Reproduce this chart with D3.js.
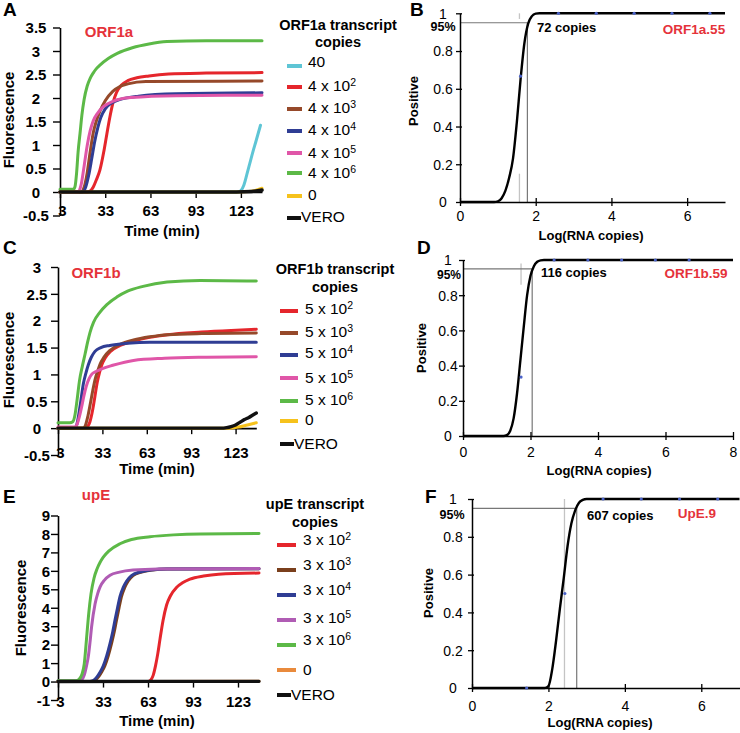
<!DOCTYPE html>
<html><head><meta charset="utf-8">
<script src="https://cdn.jsdelivr.net/npm/d3@7"></script>
<style>body{margin:0;background:#fff} svg text{font-family:"Liberation Sans",Arial,sans-serif}</style>
</head><body>
<svg id="c" width="740" height="733"></svg>
<script>
// ---------------- DATA ----------------
const timeTicks = [3, 33, 63, 93, 123];
const orf1aTicks = [-0.5, 0, 0.5, 1, 1.5, 2, 2.5, 3, 3.5];
const orf1bTicks = [-0.5, 0, 0.5, 1, 1.5, 2, 2.5, 3];
const upeTicks = [-1, 0, 1, 2, 3, 4, 5, 6, 7, 8, 9];
const probTicks = [0, 0.2, 0.4, 0.6, 0.8, 1];
const logTicksB = [0, 2, 4, 6];
const logTicksD = [0, 2, 4, 6, 8];
const logTicksF = [0, 2, 4, 6];

const orf1aLegend = ["40", "4 x 10^2", "4 x 10^3", "4 x 10^4", "4 x 10^5", "4 x 10^6", "0", "VERO"];
const orf1bLegend = ["5 x 10^2", "5 x 10^3", "5 x 10^4", "5 x 10^5", "5 x 10^6", "0", "VERO"];
const upeLegend = ["3 x 10^2", "3 x 10^3", "3 x 10^4", "3 x 10^5", "3 x 10^6", "0", "VERO"];

// ORF1a amplification curves [time, fluorescence]
const orf1a_40 = [[3,0],[121,0],[123,0.03],[125,0.15],[127,0.38],[129,0.62],[131,0.86],[133,1.08],[136,1.42]];
const orf1a_4e2 = [[3,0],[21,0],[23,0.02],[25,0.1],[27,0.25],[29.5,0.47],[32,0.85],[34,1.22],[36,1.58],[38,1.88],[40.5,2.12],[44,2.28],[48,2.37],[54,2.43],[62,2.47],[75,2.51],[100,2.53],[137,2.54]];
const orf1a_4e3 = [[3,0],[17,0],[19,0.1],[21,0.4],[23,0.85],[25,1.25],[27,1.5],[29.5,1.72],[33,1.94],[38,2.14],[43,2.25],[48,2.3],[60,2.35],[137,2.36]];
const orf1a_4e4 = [[3,0],[18,0],[20,0.1],[22,0.35],[24,0.7],[26,1.07],[28,1.36],[30,1.58],[33,1.77],[37,1.89],[43,1.97],[55,2.04],[80,2.09],[137,2.11]];
const orf1a_4e5 = [[3,0],[15,0],[17,0.15],[19,0.55],[21,0.98],[23,1.3],[25,1.51],[28,1.68],[32,1.82],[38,1.93],[50,2.01],[80,2.05],[137,2.06]];
const orf1a_4e6 = [[3,0.06],[12,0.06],[13,0.12],[14,0.4],[15,0.85],[16.3,1.25],[17.5,1.63],[19,1.97],[21,2.25],[23,2.42],[25,2.53],[27,2.62],[29.5,2.7],[35,2.84],[41,2.95],[51,3.07],[62,3.15],[74,3.2],[100,3.22],[137,3.22]];
const orf1a_0 = [[3,0],[120,0],[128,0.01],[132,0.03],[137,0.08]];
const orf1a_vero = [[3,0],[120,0],[130,0.01],[137,0.04]];

// ORF1b amplification curves
const orf1b_5e2 = [[3,0],[21.5,0],[23,0.03],[24.6,0.12],[26.5,0.35],[28,0.6],[29.5,0.85],[31,1.03],[32.5,1.17],[35,1.31],[38.5,1.43],[45,1.54],[54,1.62],[65,1.69],[77,1.74],[100,1.79],[120,1.82],[137,1.84]];
const orf1b_5e3 = [[3,0],[20,0],[21.5,0.05],[23,0.2],[24.6,0.42],[26.5,0.7],[28,0.9],[30,1.08],[31.4,1.19],[34,1.32],[38.2,1.45],[45,1.56],[54,1.64],[65,1.7],[77,1.74],[100,1.76],[137,1.77]];
const orf1b_5e4 = [[3,0],[14,0],[15.5,0.05],[17,0.25],[18.5,0.52],[20.1,0.82],[22,1.04],[23.5,1.18],[25.5,1.32],[28,1.43],[32,1.5],[38,1.54],[50,1.58],[65,1.6],[100,1.6],[137,1.6]];
const orf1b_5e5 = [[3,0.02],[14.5,0.02],[16,0.08],[17.5,0.22],[19,0.4],[20.5,0.6],[22,0.77],[24,0.92],[26,1.01],[29,1.06],[33,1.11],[40,1.17],[54,1.26],[75,1.3],[100,1.32],[137,1.33]];
const orf1b_5e6 = [[3,0.1],[11,0.1],[13,0.12],[14.5,0.25],[16,0.55],[17.5,0.88],[19.5,1.16],[21.3,1.38],[23,1.6],[24.6,1.78],[27,1.97],[31.4,2.16],[36,2.3],[42.7,2.44],[50,2.55],[60.5,2.64],[76.7,2.72],[99,2.75],[137,2.74]];
const orf1b_0 = [[3,0],[119,0],[125,0.02],[131,0.06],[137,0.1]];
const orf1b_vero = [[3,0],[113,0],[117,0.01],[120,0.03],[123,0.06],[126,0.11],[129,0.16],[132,0.2],[135,0.25],[137,0.28]];

// upE amplification curves
const upe_3e2 = [[3,0],[63,0],[65,0.1],[66.5,0.35],[68,0.85],[69.5,1.5],[71,2.3],[73,3.3],[75.4,4.15],[78,4.65],[82,5.1],[86,5.35],[91,5.55],[100,5.72],[110,5.82],[137,5.88]];
const upe_3e3 = [[3,0],[25,0],[27.5,0.05],[30,0.25],[32,0.5],[34.2,0.85],[36.5,1.4],[38.7,2.07],[40.5,2.7],[42,3.33],[43.7,4.0],[45.3,4.6],[47.5,5.1],[49.8,5.45],[53,5.74],[58.7,5.94],[66,6.05],[76,6.1],[137,6.12]];
const upe_3e4 = [[3,0],[24,0],[26.5,0.05],[29,0.25],[31,0.5],[33.2,0.85],[35.5,1.4],[37.7,2.07],[39.5,2.7],[41,3.33],[42.7,4.0],[44.3,4.6],[46.5,5.1],[48.8,5.45],[52,5.74],[57.7,5.94],[65,6.05],[75,6.1],[137,6.12]];
const upe_3e5 = [[3,0.05],[17,0.05],[19,0.12],[20.5,0.35],[22,0.85],[23.2,1.35],[24.3,2.1],[25.4,2.97],[27.7,4.2],[29.5,4.78],[31,5.12],[34,5.5],[37.7,5.76],[44,5.93],[53,6.04],[70,6.1],[137,6.13]];
const upe_3e6 = [[3,0.05],[15,0.05],[17,0.12],[19,0.4],[20.5,0.95],[22,2.3],[23.5,3.7],[25,4.75],[27,5.6],[29,6.1],[31,6.45],[33.2,6.74],[37,7.08],[44.3,7.47],[52,7.7],[64.3,7.85],[80,7.95],[98,8.0],[137,8.02]];
const upe_0 = [[3,0],[60,0],[137,0.02]];
const upe_vero = [[3,0],[70,0.01],[137,0.01]];

// Probit (LoD) curves [log copies, fraction positive]
const curveB = [[0,0],[0.9,0],[1.0,0.003],[1.1,0.02],[1.2,0.06],[1.3,0.13],[1.4,0.23],[1.5,0.42],[1.6,0.65],[1.7,0.84],[1.8,0.945],[1.9,0.985],[2.0,0.998],[2.1,1],[7,1]];
const dotsB = [[1.6,0.667],[2.6,1],[3.6,1],[4.6,1],[5.6,1],[6.6,1]];
const lodB = 1.78;
const ciB = [[1.57,0,0.15],[1.57,0.97,1]];

const curveD = [[0,0],[1.2,0],[1.3,0.005],[1.4,0.03],[1.5,0.1],[1.6,0.24],[1.7,0.43],[1.8,0.62],[1.9,0.8],[2.0,0.91],[2.1,0.965],[2.2,0.99],[2.3,0.998],[2.4,1],[8,1]];
const dotsD = [[1.72,0.335],[2.7,1],[3.7,1],[4.7,1],[5.7,1],[6.7,1]];
const lodD = 2.05;
const ciD = [[1.72,0.86,0.98]];

const curveF = [[0,0],[1.9,0],[2.0,0.01],[2.1,0.1],[2.2,0.25],[2.3,0.42],[2.4,0.58],[2.5,0.75],[2.6,0.87],[2.7,0.94],[2.8,0.98],[2.9,0.995],[3.0,1],[7,1]];
const dotsF = [[1.43,0],[2.43,0.5],[3.43,1],[4.43,1],[5.43,1],[6.43,1]];
const lodF = 2.74;
const ciF = [[2.42,0,1]];

// ---------------- DRAWING ----------------
const svg = d3.select("#c");
const RED = "#e5323a";
const C = {cyan:"#5ec5d5", red:"#e5262c", brown:"#96492a", blue:"#2f3d94", magenta:"#e056a8",
           green:"#5cb947", yellow:"#f6c21c", black:"#111111", purple:"#b05cb4", orange:"#e98a3c", dbrown:"#7a3f1c"};

function txt(x, y, s, o = {}) {
  const t = svg.append("text").attr("x", x).attr("y", y).attr("dy", "0.35em").text(s)
    .attr("font-size", o.size || 13).attr("font-weight", o.bold ? "bold" : "normal")
    .attr("fill", o.fill || "#000").attr("text-anchor", o.anchor || "middle");
  if (o.rotate) t.attr("transform", `rotate(-90,${x},${y})`);
  return t;
}

function ampPanel(cfg, series, colors, widths) {
  const x = d3.scaleLinear().domain(cfg.tDomain).range(cfg.xRange);
  const y = d3.scaleLinear().domain(cfg.vDomain).range(cfg.yRange);
  const g = svg.append("g");
  const ya = g.append("g").attr("transform", `translate(${cfg.xRange[0]},0)`)
    .call(d3.axisLeft(y).tickValues(cfg.vTicks).tickSize(7).tickSizeOuter(0).tickFormat(d => String(d)));
  ya.attr("font-size", null).attr("font-family", null);
  ya.select(".domain").attr("stroke", "#000").attr("stroke-width", 1.6);
  ya.selectAll(".tick line").attr("stroke", "#000").attr("stroke-width", 1.4);
  ya.selectAll(".tick text").attr("x", cfg.yLabelDx).attr("dy", "0.35em").attr("text-anchor", cfg.yAnchor)
    .attr("font-size", 15).attr("font-weight", "bold").attr("fill", "#000");
  const y0 = y(0);
  const xa = g.append("g").attr("transform", `translate(0,${y0})`)
    .call(d3.axisBottom(x).tickValues(timeTicks).tickSize(6).tickSizeOuter(0).tickFormat(d => String(d)));
  xa.attr("font-size", null).attr("font-family", null);
  xa.select(".domain").attr("stroke", "#000").attr("stroke-width", 1.6);
  xa.selectAll(".tick line").attr("stroke", "#000").attr("stroke-width", 1.4);
  xa.selectAll(".tick text").attr("y", cfg.xLabelY - y0).attr("dy", "0.35em")
    .attr("dx", d => d === timeTicks[0] ? 2 : 0)
    .attr("font-size", 15).attr("font-weight", "bold").attr("fill", "#000");
  const line = d3.line().x(d => x(d[0])).y(d => y(d[1])).curve(d3.curveMonotoneX);
  series.forEach((s, i) => {
    g.append("path").datum(s).attr("d", line).attr("fill", "none")
      .attr("stroke", colors[i]).attr("stroke-width", widths[i]).attr("stroke-linejoin", "round").attr("stroke-linecap", "round");
  });
}

function legend(cfg, title, labels, colors) {
  txt(cfg.titleX, cfg.titleY[0], title[0], {size: 14.5, bold: true});
  txt(cfg.titleX, cfg.titleY[1], title[1], {size: 14.5, bold: true});
  labels.forEach((lab, i) => {
    const vero = lab === "VERO";
    const x1 = cfg.swX, x2 = vero ? cfg.swX + 14 : cfg.swX + cfg.swLen;
    svg.append("line").attr("x1", x1).attr("x2", x2).attr("y1", cfg.swY[i]).attr("y2", cfg.swY[i])
      .attr("stroke", colors[i]).attr("stroke-width", 4);
    const parts = lab.split("^");
    const t = svg.append("text").attr("x", vero ? x2 : cfg.textX).attr("y", cfg.textY[i]).attr("dy", "0.35em")
      .attr("font-size", 15.5).attr("fill", "#000");
    t.append("tspan").text(parts[0]);
    if (parts[1]) t.append("tspan").attr("dy", "-0.5em").attr("font-size", 10.5).text(parts[1]);
  });
}

function probitPanel(cfg, curve, dots, lod, ci, xTicks) {
  const x = d3.scaleLinear().domain(cfg.xDomain).range(cfg.xRange);
  const y = d3.scaleLinear().domain([0, 1]).range(cfg.yRange);
  const g = svg.append("g");
  ci.forEach(s => g.append("line").attr("x1", x(s[0])).attr("x2", x(s[0])).attr("y1", y(s[1])).attr("y2", y(s[2]))
    .attr("stroke", "#c4c4c4").attr("stroke-width", 1.3));
  g.append("line").attr("x1", x(cfg.xDomain[0])).attr("x2", x(lod)).attr("y1", y(0.95)).attr("y2", y(0.95))
    .attr("stroke", "#777").attr("stroke-width", 1.2);
  g.append("line").attr("x1", x(lod)).attr("x2", x(lod)).attr("y1", y(0)).attr("y2", y(0.95))
    .attr("stroke", "#777").attr("stroke-width", 1.2);
  const ya = g.append("g").attr("transform", `translate(${cfg.xRange[0]},0)`)
    .call(d3.axisLeft(y).tickValues(probTicks).tickSize(4).tickSizeOuter(0).tickFormat(d => String(d)));
  ya.attr("font-size", null).attr("font-family", null);
  ya.select(".domain").attr("stroke", "#000").attr("stroke-width", 1.5);
  ya.selectAll(".tick line").attr("stroke", "#000").attr("stroke-width", 1.3).attr("x1", 2);
  ya.selectAll(".tick text").attr("x", cfg.yLabelDx).attr("dy", "0.35em").attr("text-anchor", "middle")
    .attr("font-size", 14).attr("fill", "#000");
  const y0 = y(0);
  const xa = g.append("g").attr("transform", `translate(0,${y0})`)
    .call(d3.axisBottom(x).tickValues(xTicks).tickSize(4).tickSizeOuter(0).tickFormat(d => String(d)));
  xa.attr("font-size", null).attr("font-family", null);
  xa.select(".domain").attr("stroke", "#000").attr("stroke-width", 1.5);
  xa.selectAll(".tick line").attr("stroke", "#000").attr("stroke-width", 1.3).attr("y1", -4);
  xa.selectAll(".tick text").attr("y", cfg.xLabelDy).attr("dy", "0.35em").attr("font-size", 14).attr("fill", "#000");
  const line = d3.line().x(d => x(d[0])).y(d => y(d[1])).curve(d3.curveMonotoneX);
  g.append("path").datum(curve).attr("d", line).attr("fill", "none").attr("stroke", "#000").attr("stroke-width", 2.4);
  g.selectAll("circle").data(dots).join("circle").attr("cx", d => x(d[0])).attr("cy", d => y(d[1]))
    .attr("r", 1.6).attr("fill", "#4a62c8");
}

// ---- Panel A ----
ampPanel({xRange: [60, 262], tDomain: [3, 137], yRange: [215.5, 27.5], vDomain: [-0.5, 3.5], vTicks: orf1aTicks,
  yLabelDx: -24, yAnchor: "middle", xLabelY: 211},
  [orf1a_40, orf1a_4e2, orf1a_4e3, orf1a_4e4, orf1a_4e5, orf1a_4e6, orf1a_0, orf1a_vero],
  [C.cyan, C.red, C.brown, C.blue, C.magenta, C.green, C.yellow, C.black], [3, 3, 3, 3, 3, 3, 3, 3.6]);
legend({titleX: 338, titleY: [25, 42], swX: 287, swLen: 15, textX: 308,
  swY: [66, 87, 109, 131, 153, 173, 196, 218], textY: [62, 86, 108, 129.5, 153, 173, 195, 217]},
  ["ORF1a transcript", "copies"], orf1aLegend, [C.cyan, C.red, C.brown, C.blue, C.magenta, C.green, C.yellow, C.black]);
txt(3, 9, "A", {size: 19, bold: true, anchor: "start"});
txt(109, 32, "ORF1a", {size: 15, bold: true, fill: RED});
txt(9, 120, "Fluorescence", {size: 15, bold: true, rotate: true});
txt(162, 231, "Time (min)", {size: 15, bold: true});

// ---- Panel C ----
ampPanel({xRange: [58, 256.3], tDomain: [3, 137], yRange: [455, 267], vDomain: [-0.5, 3], vTicks: orf1bTicks,
  yLabelDx: -21, yAnchor: "middle", xLabelY: 453},
  [orf1b_5e2, orf1b_5e3, orf1b_5e4, orf1b_5e5, orf1b_5e6, orf1b_0, orf1b_vero],
  [C.red, C.brown, C.blue, C.magenta, C.green, C.yellow, C.black], [3, 3, 3, 3, 3, 3, 3.4]);
legend({titleX: 335, titleY: [269, 287], swX: 280, swLen: 18, textX: 305,
  swY: [311, 333, 355, 378, 401, 421, 444], textY: [309, 332, 353, 378, 400, 420, 444]},
  ["ORF1b transcript", "copies"], orf1bLegend, [C.red, C.brown, C.blue, C.magenta, C.green, C.yellow, C.black]);
txt(3, 247, "C", {size: 19, bold: true, anchor: "start"});
txt(96, 273, "ORF1b", {size: 15, bold: true, fill: RED});
txt(8.5, 360, "Fluorescence", {size: 15, bold: true, rotate: true});
txt(157, 469, "Time (min)", {size: 15, bold: true});

// ---- Panel E ----
ampPanel({xRange: [58, 259], tDomain: [3, 137], yRange: [700, 515.5], vDomain: [-1, 9], vTicks: upeTicks,
  yLabelDx: -8, yAnchor: "end", xLabelY: 702},
  [upe_3e2, upe_3e3, upe_3e4, upe_3e5, upe_3e6, upe_0, upe_vero],
  [C.red, C.dbrown, C.blue, C.purple, C.green, C.orange, C.black], [3, 3, 3, 3, 3, 3, 3.4]);
legend({titleX: 315, titleY: [504, 522], swX: 277, swLen: 19, textX: 303,
  swY: [545, 570, 595, 620, 645, 670, 695], textY: [540, 565, 590, 618, 640, 670, 695]},
  ["upE transcript", "copies"], upeLegend, [C.red, C.dbrown, C.blue, C.purple, C.green, C.orange, C.black]);
txt(3, 496, "E", {size: 19, bold: true, anchor: "start"});
txt(96, 495, "upE", {size: 15, bold: true, fill: RED});
txt(21, 608, "Fluorescence", {size: 15, bold: true, rotate: true});
txt(157, 721, "Time (min)", {size: 15, bold: true});

// ---- Panel B ----
probitPanel({xDomain: [0, 7], xRange: [460, 725], yRange: [202, 13.3], yLabelDx: -17, xLabelDy: 14},
  curveB, dotsB, lodB, ciB, logTicksB);
txt(410, 9, "B", {size: 19, bold: true, anchor: "start"});
txt(413, 101, "Positive", {size: 13, bold: true, rotate: true});
txt(591, 235, "Log(RNA copies)", {size: 13, bold: true});
txt(443, 27, "95%", {size: 12.5, bold: true});
txt(537, 27, "72 copies", {size: 13, bold: true, anchor: "start"});
txt(694, 29, "ORF1a.55", {size: 13.5, bold: true, fill: RED});

// ---- Panel D ----
probitPanel({xDomain: [0, 8], xRange: [463, 733], yRange: [436, 260], yLabelDx: -15, xLabelDy: 16},
  curveD, dotsD, lodD, ciD, logTicksD);
txt(417, 247, "D", {size: 19, bold: true, anchor: "start"});
txt(421, 348, "Positive", {size: 13, bold: true, rotate: true});
txt(599, 470, "Log(RNA copies)", {size: 13, bold: true});
txt(449, 275, "95%", {size: 12, bold: true});
txt(541, 272, "116 copies", {size: 13, bold: true, anchor: "start"});
txt(696, 273, "ORF1b.59", {size: 13.5, bold: true, fill: RED});

// ---- Panel F ----
probitPanel({xDomain: [0, 7], xRange: [472, 739.5], yRange: [688, 499], yLabelDx: -19, xLabelDy: 18},
  curveF, dotsF, lodF, ciF, logTicksF);
txt(425, 496, "F", {size: 19, bold: true, anchor: "start"});
txt(428, 593, "Positive", {size: 13, bold: true, rotate: true});
txt(600, 722, "Log(RNA copies)", {size: 13, bold: true});
txt(452, 515, "95%", {size: 12.5, bold: true});
txt(587, 515, "607 copies", {size: 13, bold: true, anchor: "start"});
txt(697, 513, "UpE.9", {size: 13.5, bold: true, fill: RED});
</script>
</body></html>
